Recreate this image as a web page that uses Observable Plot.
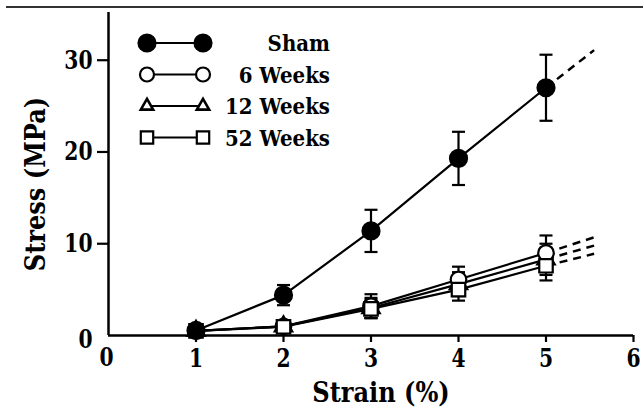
<!DOCTYPE html>
<html>
<head>
<meta charset="utf-8">
<script src="https://cdn.jsdelivr.net/npm/d3@7"></script>
<script src="https://cdn.jsdelivr.net/npm/@observablehq/plot@0.6"></script>
<style>
  html, body { margin: 0; padding: 0; background: #fff; }
  #wrap { position: relative; width: 643px; height: 408px; overflow: hidden; }
  #topline { position: absolute; left: 6px; right: 0; top: 6px; height: 0; border-top: 2px solid #333; }
  #legend { position: absolute; left: 0; top: 0; }
</style>
</head>
<body>
<div id="wrap"><div id="topline"></div></div>
<script>
// ---- data ----
const strain = [1, 2, 3, 4, 5];
const shamStress = [0.55, 4.4, 11.4, 19.3, 27.0];
const shamErr    = [0.3, 1.1, 2.3, 2.9, 3.6];
const wk6Stress  = [0.5, 1.0, 3.2, 6.1, 9.0];
const wk6Err     = [0.2, 0.3, 1.3, 1.4, 1.9];
const wk12Stress = [0.5, 1.0, 3.0, 5.6, 8.3];
const wk12Err    = [0.2, 0.3, 1.1, 1.3, 1.7];
const wk52Stress = [0.5, 0.95, 2.9, 5.0, 7.6];
const wk52Err    = [0.2, 0.3, 1.0, 1.2, 1.6];
const extStrain  = 5.55;                 // end of dashed extrapolation
const extStress  = [31.1, 10.7, 9.8, 8.9]; // Sham, 6, 12, 52 weeks
const seriesNames = ["Sham", "6 Weeks", "12 Weeks", "52 Weeks"];
const xTicks = [0, 1, 2, 3, 4, 5, 6];
const yTicks = [0, 10, 20, 30];
const xLabel = "Strain (%)";
const yLabel = "Stress (MPa)";

// ---- build table ----
const stresses = [shamStress, wk6Stress, wk12Stress, wk52Stress];
const errs = [shamErr, wk6Err, wk12Err, wk52Err];
const symbols = ["circle", "circle", "triangle", "square"];
const fills = ["black", "white", "white", "white"];
const radii = [8.5, 7.8, 6.5, 7.6];
const rows = [];
seriesNames.forEach((name, si) => {
  strain.forEach((x, i) => rows.push({series: name, si, x, y: stresses[si][i], e: errs[si][i]}));
});
const ext = seriesNames.map((name, si) => ({series: name, x1: strain[strain.length - 1], y1: stresses[si][strain.length - 1], x2: extStrain, y2: extStress[si]}));

const capSymbol = { draw(ctx) { ctx.moveTo(-6.5, 0); ctx.lineTo(6.5, 0); } };

const markerFor = si => Plot.dot(rows.filter(d => d.si === si), {
  x: "x", y: "y", symbol: () => symbols[si], r: radii[si], fill: fills[si], stroke: "black", strokeWidth: 2.2
});
// drawing order: 12 weeks (hidden beneath), 6 weeks, 52 weeks, then Sham on top
const orderedMarkers = [2, 1, 3, 0].map(markerFor);

const chart = Plot.plot({
  width: 643, height: 408,
  marginLeft: 108, marginRight: 10, marginTop: 12, marginBottom: 73,
  x: {domain: [0, 6]},
  y: {domain: [0, 35.2]},
  style: {background: "white", overflow: "visible", color: "black"},
  marks: [
    // axes
    Plot.ruleY([0], {x1: 0, x2: 6, stroke: "black", strokeWidth: 2.5}),
    Plot.ruleX([0], {y1: 0, y2: 35.2, stroke: "black", strokeWidth: 2.5}),
    Plot.axisY({ticks: yTicks.filter(d => d > 0), tickFormat: d => String(d), tickSize: 11, tickPadding: 5, fontSize: 26, strokeWidth: 2.2, label: null}),
    Plot.axisX({ticks: xTicks.filter(d => d > 0), tickFormat: d => String(d), tickSize: 7, tickPadding: 6, fontSize: 26, strokeWidth: 2.2, label: null}),
    Plot.text([yTicks[0]], {x: 0, y: d => d, text: d => String(d), dx: -23, dy: 4, fontSize: 26, textAnchor: "middle"}),
    Plot.text([xTicks[0]], {x: d => d, y: 0, text: d => String(d), dx: -2, dy: 22, fontSize: 26, textAnchor: "middle"}),
    Plot.text([yLabel], {frameAnchor: "left", text: d => d, rotate: -90, dx: -72, dy: 10, fontSize: 28, textAnchor: "middle", lineAnchor: "middle"}),
    Plot.text([xLabel], {frameAnchor: "bottom", text: d => d, dx: 10, dy: 58, fontSize: 28, textAnchor: "middle", lineAnchor: "middle"}),
    // series lines
    Plot.line(rows, {x: "x", y: "y", z: "series", stroke: "black", strokeWidth: 2.2}),
    Plot.link(ext, {x1: "x1", y1: "y1", x2: "x2", y2: "y2", stroke: "black", strokeWidth: 2.5, strokeDasharray: "8,6"}),
    // error bars
    Plot.ruleX(rows, {x: "x", y1: d => d.y - d.e, y2: d => d.y + d.e, stroke: "black", strokeWidth: 2.2}),
    Plot.dot(rows, {x: "x", y: d => d.y + d.e, symbol: capSymbol, stroke: "black", strokeWidth: 2.2, r: 5}),
    Plot.dot(rows, {x: "x", y: d => d.y - d.e, symbol: capSymbol, stroke: "black", strokeWidth: 2.2, r: 5}),
    ...orderedMarkers
  ]
});
const wrap = document.getElementById("wrap");
wrap.insertBefore(chart, wrap.firstChild);

// ---- legend (inside plot area) ----
const leg = d3.select(wrap).append("svg").attr("id", "legend").attr("width", 643).attr("height", 408);
const rowY = d => 43 + d * 31.5;
seriesNames.forEach((name, si) => {
  const g = leg.append("g").attr("transform", `translate(0,${rowY(si)})`);
  g.append("line").attr("x1", 147).attr("x2", 203).attr("y1", 0).attr("y2", 0).attr("stroke", "black").attr("stroke-width", 2.2);
  const symType = {circle: d3.symbolCircle, triangle: d3.symbolTriangle, square: d3.symbolSquare}[symbols[si]];
  const r = si === 2 ? 4.6 : si === 0 ? 8.5 : 7;
  const path = d3.symbol(symType, Math.PI * r * r)();
  [147, 203].forEach(cx => g.append("path").attr("d", path).attr("transform", `translate(${cx},0)`)
    .attr("fill", fills[si]).attr("stroke", "black").attr("stroke-width", si === 2 ? 2.6 : 2.2));
  g.append("text").attr("class", "legtext").attr("x", 330).attr("y", 0).attr("dy", "0.35em").attr("text-anchor", "end")
    .attr("font-size", 23).text(name);
});

// serif bold face, narrowed to the proportions of the reference typeface
d3.select(wrap).selectAll("svg text").each(function () {
  this.style.fontFamily = "'DejaVu Serif'";
  this.style.fontWeight = "bold";
});
d3.select(wrap).selectAll("svg text").each(function () {
  const w = this.getComputedTextLength();
  if (!(w > 0)) return;
  const isNum = /^\d+$/.test(this.textContent.trim());
  const k = isNum ? 0.78 : 0.86;
  this.setAttribute("textLength", (w * k).toFixed(1));
  this.setAttribute("lengthAdjust", "spacingAndGlyphs");
});
</script>
</body>
</html>
